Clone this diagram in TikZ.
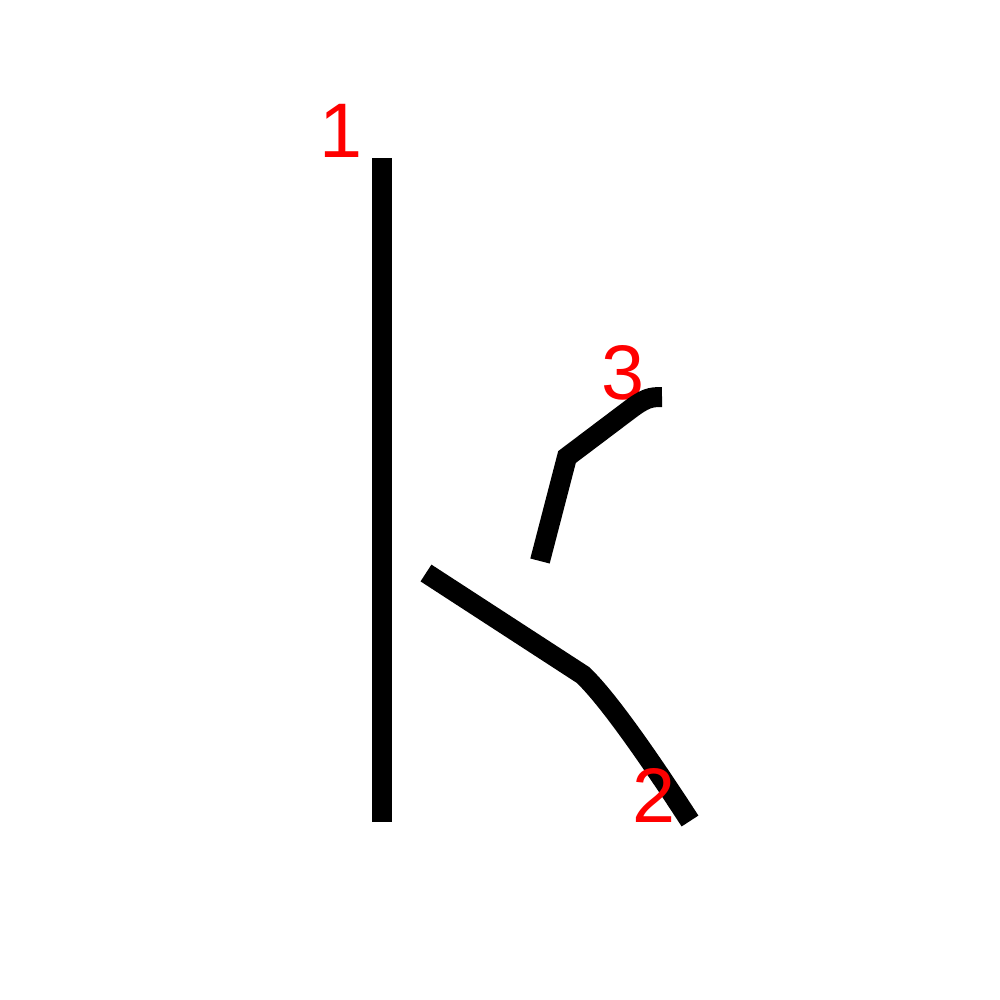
\documentclass[tikz,border=0pt]{standalone}
\usepackage{fontspec}
\setmainfont{Liberation Sans}
\usetikzlibrary{positioning,calc}
\definecolor{numred}{HTML}{FF0000}
\tikzset{
  stroke/.style={line width=0.2cm,line cap=butt,line join=miter,black},
  num/.style={text=numred,font=\fontsize{22}{22}\selectfont,inner sep=0,anchor=base},
}

\begin{document}
\begin{tikzpicture}[x=0.01cm,y=-0.01cm]
  \useasboundingbox[fill=white] (0,0) rectangle (1000,1000);
  % the three strokes
  \coordinate (s1a) at (382,158); \coordinate (s1b) at (382,822);
  \coordinate (s2a) at (426,573); \coordinate (s2b) at (583,675); \coordinate (s2c) at (690,821);
  \coordinate (s3a) at (540,561); \coordinate (s3b) at (567,457); \coordinate (s3c) at (628,411); \coordinate (s3d) at (662,397);
  \draw[stroke] (s1a) -- (s1b);
  \draw[stroke] (s2a) -- (s2b) .. controls (605,696) and (642,747) .. (s2c);
  % stroke numbers
  \node[num] (n1) at (341,157) {1};
  \node[num] (n2) at (654,822) {2};
  \node[num] (n3) at (623,399) {3};
  \draw[stroke] (s3a) -- (s3b) -- (s3c) .. controls (645,398) and (650,397) .. (s3d);
\end{tikzpicture}
\end{document}
